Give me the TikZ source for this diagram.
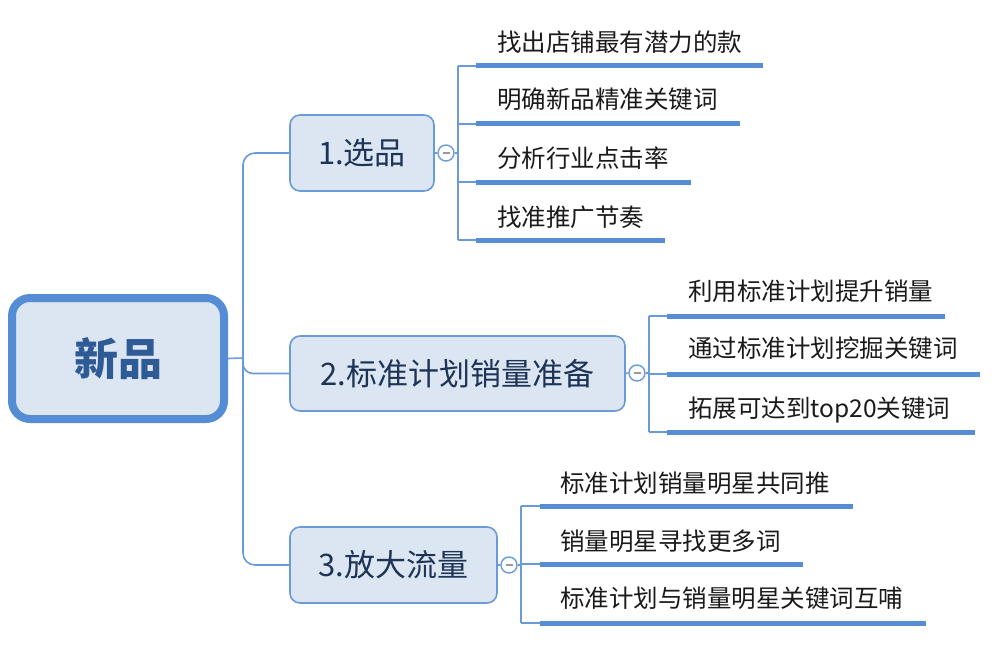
\documentclass[tikz,border=0pt]{standalone}
\usepackage{fontspec}
\newfontfamily\cjk{Noto Sans CJK SC}
\definecolor{linec}{HTML}{6A9BD9}
\definecolor{ulc}{HTML}{578DD4}
\definecolor{boxfill}{HTML}{DCE6F2}
\definecolor{mainborder}{HTML}{548DD4}
\definecolor{maintext}{HTML}{2E5B95}
\definecolor{subtext}{HTML}{1D3456}
\definecolor{leaftext}{HTML}{1A1A1A}
\begin{document}
\begin{tikzpicture}[x=1pt,y=-1pt,
  mainbox/.style={draw=mainborder, line width=8pt, fill=boxfill, rounded corners=18pt,
    font=\cjk\bfseries\fontsize{44}{50}\selectfont, text=maintext, inner sep=0pt},
  subbox/.style={draw=linec, line width=1.6pt, fill=boxfill, rounded corners=10pt,
    font=\cjk\fontsize{31}{36}\selectfont, text=subtext, inner sep=0pt},
  leaf/.style={anchor=base west, inner sep=0pt, font=\cjk\fontsize{24.5}{30}\selectfont, text=leaftext},
  conn/.style={draw=linec, line width=1.6pt},
  uline/.style={draw=ulc, line width=5pt},
  knob/.style={circle, draw=linec, line width=1.4pt, fill=white, minimum size=16pt, inner sep=0pt},
  minus/.style={draw=gray!80, line width=1.2pt}]
\useasboundingbox (0,0) rectangle (998,650);

% root
\node[mainbox, minimum width=212pt, minimum height=121pt] (root) at (118,358.5) {新品};

% children
\node[subbox, minimum width=144pt, minimum height=76pt] (c1) at (362,153) {1.选品};
\node[subbox, minimum width=335pt, minimum height=75pt] (c2) at (457.5,373.5) {2.标准计划销量准备};
\node[subbox, minimum width=207pt, minimum height=76pt] (c3) at (393.5,565) {3.放大流量};

% trunk
\coordinate (t0) at (243,358);
\draw[conn] (root.east) -- (t0);
\draw[conn, rounded corners=12pt] (c1.west) -- (243,153) -- (243,565) -- (c3.west);
\draw[conn, rounded corners=10pt] (t0) |- (c2.west);

% knobs
\node[knob] (k1) at (446,153) {};
\node[knob] (k2) at (637,373) {};
\node[knob] (k3) at (509,565) {};
\foreach \k in {k1,k2,k3}{
  \draw[minus] ([xshift=-3.5pt]\k.center) -- ([xshift=3.5pt]\k.center);
}
\draw[conn] (c1.east) -- (k1.west);
\draw[conn] (c2.east) -- (k2.west);
\draw[conn] (c3.east) -- (k3.west);

% ---- group 1 leaves
\coordinate (v1) at (458,153);
\draw[conn] (k1.east) -- (v1);
\foreach \i/\y/\e in {1/66/763, 2/124/740, 3/182/691, 4/240/665}{
  \coordinate (a\i s) at (476,\y);
  \coordinate (a\i e) at (\e,\y);
  \draw[uline] (a\i s) -- (a\i e);
  \draw[conn] (458,\y) -- (a\i s);
}
\draw[conn] (458,66) -- (458,240);
\node[leaf] (l11) at (497,52) {找出店铺最有潜力的款};
\node[leaf] (l12) at (497,109) {明确新品精准关键词};
\node[leaf] (l13) at (497,167) {分析行业点击率};
\node[leaf] (l14) at (497,226) {找准推广节奏};

% ---- group 2 leaves
\coordinate (v2) at (649,373);
\draw[conn] (k2.east) -- (v2);
\foreach \i/\y/\e in {1/316/945, 2/374/980, 3/432/975}{
  \coordinate (b\i s) at (667,\y);
  \coordinate (b\i e) at (\e,\y);
  \draw[uline] (b\i s) -- (b\i e);
  \draw[conn] (649,\y) -- (b\i s);
}
\draw[conn] (649,316) -- (649,432);
\node[leaf] (l21) at (688,300) {利用标准计划提升销量};
\node[leaf] (l22) at (688,357) {通过标准计划挖掘关键词};
\node[leaf] (l23) at (688,417) {拓展可达到top20关键词};

% ---- group 3 leaves
\coordinate (v3) at (521,565);
\draw[conn] (k3.east) -- (v3);
\foreach \i/\y/\e in {1/506/853, 2/564/803, 3/623/926}{
  \coordinate (d\i s) at (540,\y);
  \coordinate (d\i e) at (\e,\y);
  \draw[uline] (d\i s) -- (d\i e);
  \draw[conn] (521,\y) -- (d\i s);
}
\draw[conn] (521,506) -- (521,623);
\node[leaf] (l31) at (560,492) {标准计划销量明星共同推};
\node[leaf] (l32) at (560,550) {销量明星寻找更多词};
\node[leaf] (l33) at (560,607) {标准计划与销量明星关键词互哺};
\end{tikzpicture}
\end{document}
